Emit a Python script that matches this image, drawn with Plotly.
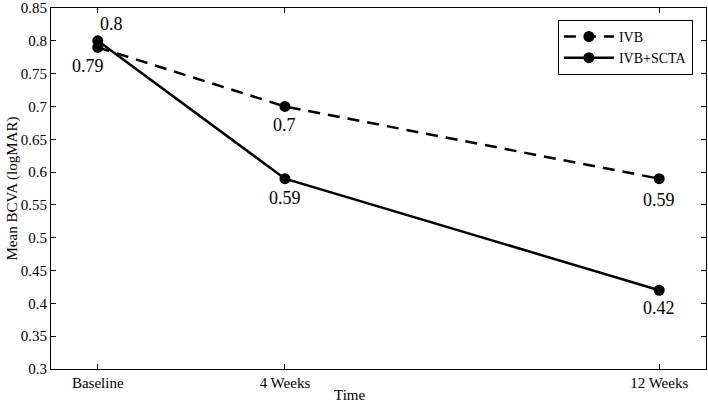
import plotly.graph_objects as go

weeks = [0, 4, 12]
tick_labels = ["Baseline", "4 Weeks", "12 Weeks"]
ivb = [0.79, 0.70, 0.59]
ivb_scta = [0.80, 0.59, 0.42]

FONT = "Liberation Serif"

fig = go.Figure()
fig.add_trace(go.Scatter(
    x=weeks, y=ivb, name="IVB", mode="lines+markers",
    line=dict(color="black", width=2.5, dash="12px,8px"),
    marker=dict(color="black", size=11, symbol="circle"),
))
fig.add_trace(go.Scatter(
    x=weeks, y=ivb_scta, name="IVB+SCTA", mode="lines+markers",
    line=dict(color="black", width=2.5),
    marker=dict(color="black", size=11, symbol="circle"),
))

# value labels (offsets in pixels)
label_specs = [
    (weeks[0], ivb_scta[0], 14, 17),
    (weeks[0], ivb[0], -10, -19),
    (weeks[1], ivb[1], 0, -19),
    (weeks[1], ivb_scta[1], 0, -19),
    (weeks[2], ivb[2], 0, -21),
    (weeks[2], ivb_scta[2], 0, -18),
]
for x, y, dx, dy in label_specs:
    fig.add_annotation(x=x, y=y, text=f"{y:g}", showarrow=False,
                       xshift=dx, yshift=dy,
                       font=dict(family=FONT, size=18, color="black"))

# axis titles
fig.add_annotation(xref="paper", yref="paper", x=0.455, y=0, yshift=-26,
                   yanchor="middle", text="Time", showarrow=False,
                   font=dict(family=FONT, size=15, color="black"))
fig.add_annotation(xref="paper", yref="paper", x=0, xshift=-39, y=0.5,
                   textangle=-90, xanchor="center", text="Mean BCVA (logMAR)",
                   showarrow=False, font=dict(family=FONT, size=15, color="black"))

axis_common = dict(
    showline=True, linecolor="black", linewidth=1, mirror="allticks",
    ticks="inside", ticklen=5, tickcolor="black", showgrid=False, zeroline=False,
    tickfont=dict(family=FONT, size=15, color="black"), automargin=False,
    ticklabeloverflow="allow",
)

fig.update_xaxes(range=[-1, 13], tickvals=weeks, ticktext=tick_labels, **axis_common)
fig.update_yaxes(range=[0.3, 0.85001], tick0=0.3, dtick=0.05, tickformat="~g", **axis_common)

fig.update_layout(
    width=708, height=404,
    margin=dict(l=51, r=2, t=8, b=35),
    plot_bgcolor="white", paper_bgcolor="white",
    font=dict(family=FONT, color="black"),
    legend=dict(x=0.98, y=0.967, xanchor="right", yanchor="top",
                bordercolor="black", borderwidth=1, bgcolor="white",
                font=dict(family=FONT, size=14, color="black"),
                itemwidth=50, tracegroupgap=0),
    showlegend=True,
)

fig.write_html("out.html", config={"displayModeBar": False},
               post_script="document.body.style.margin='0';")
